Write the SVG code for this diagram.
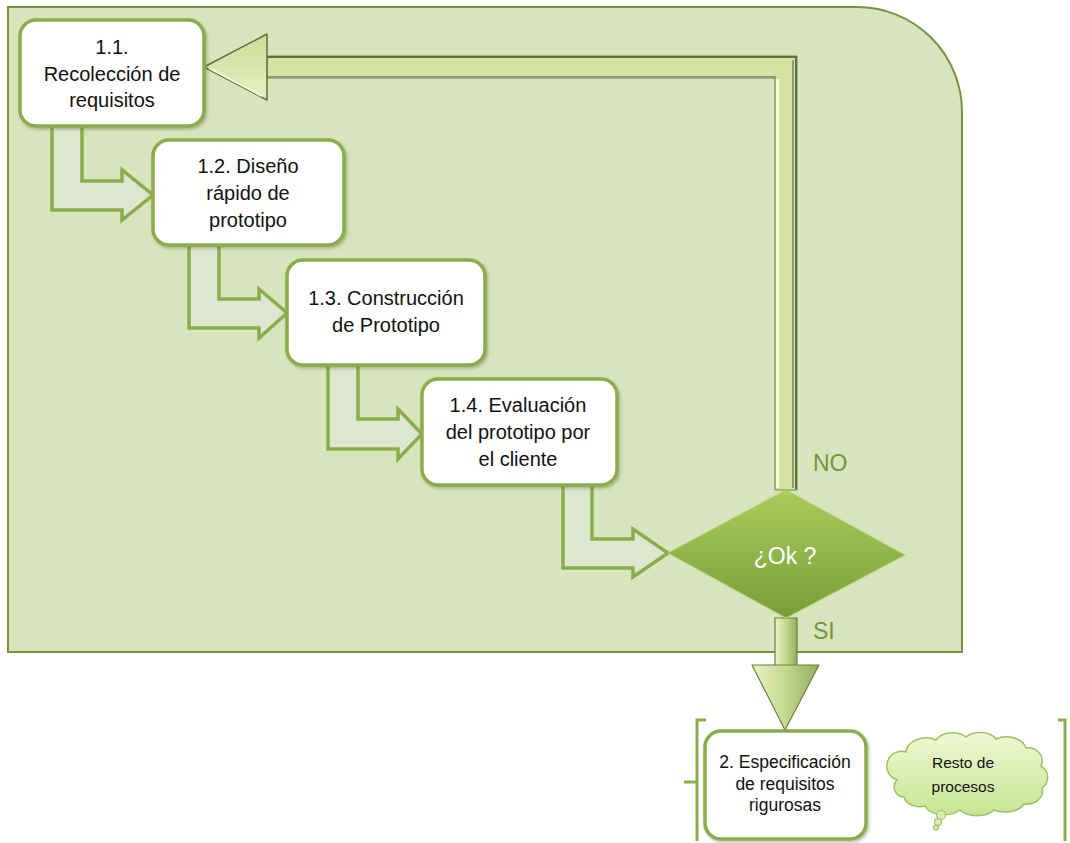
<svg xmlns="http://www.w3.org/2000/svg" width="1070" height="843" viewBox="0 0 1070 843">
  <defs>
    <style>
      .node rect { fill: #ffffff; stroke: #8aad4c; stroke-width: 3.5; }
      .node text { font-family: "Liberation Sans", Arial, sans-serif; font-size: 20px; fill: #111; text-anchor: middle; }
      .flow { fill: #dde6cf; stroke: #8aad4c; stroke-width: 3.5; stroke-linejoin: miter; }
      .tag { font-family: "Liberation Sans", Arial, sans-serif; font-size: 23px; fill: #77933c; }
      .brace { fill: none; stroke: #8aad4c; stroke-width: 3; }
      .small { font-family: "Liberation Sans", Arial, sans-serif; font-size: 15.5px; fill: #111; text-anchor: middle; }
    </style>
    <filter id="shadow" x="-10%" y="-10%" width="130%" height="130%">
      <feDropShadow dx="1.5" dy="2" stdDeviation="1.5" flood-color="#4a5a2a" flood-opacity="0.35"/>
    </filter>
    <linearGradient id="diamondFill" x1="0" y1="0" x2="0" y2="1">
      <stop offset="0" stop-color="#a9cd5b"/>
      <stop offset="1" stop-color="#789d39"/>
    </linearGradient>
    <linearGradient id="headFill" x1="0" y1="0" x2="0" y2="1">
      <stop offset="0" stop-color="#c9dc98"/>
      <stop offset="1" stop-color="#e6f2c2"/>
    </linearGradient>
    <linearGradient id="downFill" x1="0" y1="0" x2="1" y2="0">
      <stop offset="0" stop-color="#e8f3c4"/>
      <stop offset="0.5" stop-color="#c3d98e"/>
      <stop offset="1" stop-color="#93ad5f"/>
    </linearGradient>
    <linearGradient id="cloudFill" x1="0" y1="0" x2="0" y2="1">
      <stop offset="0" stop-color="#eef8d2"/>
      <stop offset="1" stop-color="#c6e594"/>
    </linearGradient>
  </defs>

  <!-- prototyping cycle container -->
  <path d="M8,7 H857 A105,105 0 0 1 962,112 V652 H8 Z" fill="#d7e4bd" stroke="#77933c" stroke-width="2"/>

  <g id="connectors">
    <!-- step arrows between the cycle stages -->
    <path class="flow" d="M52,120 V210 H122 V220 L153,195 L122,170 V181 H82 V120"/>
    <path class="flow" d="M189,240 V328 H259 V338 L287,313 L259,289 V299 H219 V240"/>
    <path class="flow" d="M328,360 V449 H398 V459 L422,434 L398,409 V419 H358 V360"/>
    <path class="flow" d="M563,480 V568 H633 V577 L668,553 L633,529 V539 H592 V480"/>

    <!-- NO: return loop back to 1.1 -->
    <g id="loop">
      <path d="M267,56 H797 V490 H775 V78 H267 Z" fill="#d3e3a3" stroke="#6b8040" stroke-width="1"/>
      <path d="M267,57 H796 V489" fill="none" stroke="#5d7238" stroke-width="2"/>
      <path d="M793,60 V488" stroke="#8d9b76" stroke-width="2"/>
      <path d="M777.5,79 V488" stroke="#f4ffd6" stroke-width="3"/>
      <path d="M267,77 H776" stroke="#8d9b76" stroke-width="2"/>
      <path d="M204,67 L267,34 V100 Z" fill="url(#headFill)" stroke="#5d7238" stroke-width="1.5" stroke-linejoin="round"/>
      <path d="M209,68 L262,96" stroke="#f2fbd8" stroke-width="2"/>
    </g>

    <!-- SI: continue to stage 2 -->
    <g id="down">
      <path d="M775,618 H797 V667 H775 Z" fill="url(#downFill)" stroke="#6b8040" stroke-width="1.2"/>
      <path d="M752,665 H819 L785,730 Z" fill="url(#downFill)" stroke="#6b8040" stroke-width="1.2" stroke-linejoin="round"/>
    </g>
  </g>

  <g id="n11" class="node">
    <rect x="20" y="20" width="184" height="106" rx="16" filter="url(#shadow)"/>
    <text x="112" y="54">1.1.</text>
    <text x="112" y="80.5">Recolección de</text>
    <text x="112" y="107">requisitos</text>
  </g>

  <g id="n12" class="node">
    <rect x="153" y="140" width="191" height="105" rx="16" filter="url(#shadow)"/>
    <text x="248" y="173">1.2. Diseño</text>
    <text x="248" y="200">rápido de</text>
    <text x="248" y="227">prototipo</text>
  </g>

  <g id="n13" class="node">
    <rect x="287" y="260" width="198" height="105" rx="16" filter="url(#shadow)"/>
    <text x="386" y="305">1.3. Construcción</text>
    <text x="386" y="332">de Prototipo</text>
  </g>

  <g id="n14" class="node">
    <rect x="422" y="379" width="195" height="106" rx="16" filter="url(#shadow)"/>
    <text x="518" y="412">1.4. Evaluación</text>
    <text x="518" y="439">del prototipo por</text>
    <text x="518" y="466">el cliente</text>
  </g>

  <g id="decision">
    <path d="M668,553 L786,490 L905,555 L786,618 Z" fill="url(#diamondFill)" stroke="#b2d06c" stroke-width="1"/>
    <text x="785" y="564" style="font-family:'Liberation Sans', Arial, sans-serif; font-size:23px; fill:#ffffff; text-anchor:middle">¿Ok ?</text>
  </g>

  <text class="tag" x="813" y="471">NO</text>
  <text class="tag" x="813" y="639">SI</text>

  <!-- following stage group -->
  <g id="bracket">
    <path class="brace" d="M706,720 H697 V841 M697,782 H684"/>
    <path class="brace" d="M1058,720 H1065 V841"/>
  </g>

  <g id="n2" class="node">
    <rect x="705" y="731" width="161" height="108" rx="16" filter="url(#shadow)"/>
    <text x="785" y="768" style="font-size:17.5px">2. Especificación</text>
    <text x="785" y="790" style="font-size:17.5px">de requisitos</text>
    <text x="785" y="811" style="font-size:17.5px">rigurosas</text>
  </g>

  <g id="cloud">
    <path d="M897,780 A13,13 0 0 1 906,752 A20,15 0 0 1 936,740 A18,12 0 0 1 966,737 A18,12 0 0 1 996,739 A20,14 0 0 1 1026,748 A14,13 0 0 1 1041,766 A13,13 0 0 1 1042,788 A16,13 0 0 1 1024,804 A20,12 0 0 1 994,810 A20,12 0 0 1 960,810 A20,12 0 0 1 925,806 A16,12 0 0 1 904,797 A10,10 0 0 1 897,780 Z" fill="url(#cloudFill)" stroke="#9fc163" stroke-width="1.5"/>
    <circle cx="941" cy="815" r="4.5" fill="#d7eeae" stroke="#9fc163" stroke-width="1.2"/>
    <circle cx="938" cy="822" r="3.5" fill="#d7eeae" stroke="#9fc163" stroke-width="1.2"/>
    <circle cx="936" cy="827.5" r="2.5" fill="#d7eeae" stroke="#9fc163" stroke-width="1.2"/>
    <text class="small" x="963" y="768">Resto de</text>
    <text class="small" x="963" y="792">procesos</text>
  </g>
</svg>
